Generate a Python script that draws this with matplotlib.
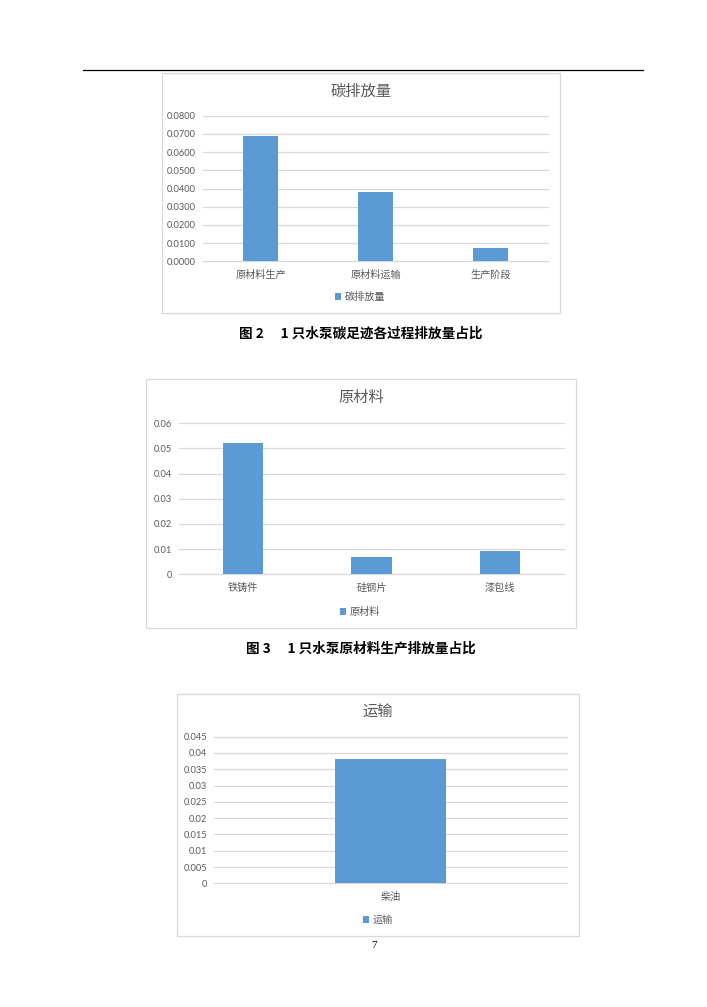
import matplotlib
matplotlib.use("Agg")
import matplotlib.pyplot as plt
from matplotlib.patches import Rectangle, Patch
from matplotlib.lines import Line2D
from matplotlib.ticker import FixedLocator, FixedFormatter

# ---------------- data ----------------
c1_title = "碳排放量"
c1_categories = ["原材料生产", "原材料运输", "生产阶段"]
c1_values = [0.0687, 0.0382, 0.0072]
c1_ticks = [0.0, 0.01, 0.02, 0.03, 0.04, 0.05, 0.06, 0.07, 0.08]
c1_ticklabels = ["0.0000", "0.0100", "0.0200", "0.0300", "0.0400",
                 "0.0500", "0.0600", "0.0700", "0.0800"]
c1_caption = "图 2　 1 只水泵碳足迹各过程排放量占比"

c2_title = "原材料"
c2_categories = ["铁铸件", "硅钢片", "漆包线"]
c2_values = [0.0523, 0.0070, 0.0091]
c2_ticks = [0.0, 0.01, 0.02, 0.03, 0.04, 0.05, 0.06]
c2_ticklabels = ["0", "0.01", "0.02", "0.03", "0.04", "0.05", "0.06"]
c2_caption = "图 3　 1 只水泵原材料生产排放量占比"

c3_title = "运输"
c3_categories = ["柴油"]
c3_values = [0.0383]
c3_ticks = [0.0, 0.005, 0.01, 0.015, 0.02, 0.025, 0.03, 0.035, 0.04, 0.045]
c3_ticklabels = ["0", "0.005", "0.01", "0.015", "0.02", "0.025",
                 "0.03", "0.035", "0.04", "0.045"]
page_number = "7"

# ---------------- styling ----------------
W, H = 707, 1007
BAR = "#5b9bd5"
GRID = "#d9d9d9"
TXT = "#595959"
CJK = ["Noto Sans CJK SC", "DejaVu Sans"]
NUM = ["Lato", "Noto Sans CJK SC", "DejaVu Sans"]

fig = plt.figure(figsize=(W / 100, H / 100), dpi=100)
fig.patch.set_facecolor("white")


def fx(x):
    return x / W


def fy(y):
    return 1 - y / H


def box(x0, y0, x1, y1):
    fig.patches.append(Rectangle((fx(x0), fy(y1)), fx(x1) - fx(x0), fy(y0) - fy(y1),
                                 transform=fig.transFigure, fill=False,
                                 edgecolor=GRID, linewidth=0.9))


def chart(frame, plot, title, title_xy, cats, vals, ticks, ticklabels,
          legend_xy, legend_label, caption=None, caption_xy=None):
    box(*frame)
    gx0, gy0, gx1, gy1 = plot  # left, top, right, bottom(zero)
    ax = fig.add_axes([fx(gx0), fy(gy1), fx(gx1) - fx(gx0), fy(gy0) - fy(gy1)])
    ax.set_facecolor("none")
    n = len(cats)
    ax.bar(range(n), vals, width=0.313, color=BAR, zorder=3)
    ax.set_xlim(-0.5, n - 0.5)
    ax.set_ylim(ticks[0], ticks[-1])
    ax.yaxis.set_major_locator(FixedLocator(ticks))
    ax.yaxis.set_major_formatter(FixedFormatter(ticklabels))
    ax.set_xticks(range(n))
    ax.set_xticklabels(cats, fontfamily=CJK, fontsize=7.3, color=TXT)
    for lab in ax.get_yticklabels():
        lab.set_fontfamily(NUM)
        lab.set_fontsize(6.7)
        lab.set_color(TXT)
    ax.tick_params(axis="both", length=0)
    ax.tick_params(axis="y", pad=5)
    ax.tick_params(axis="x", pad=6)
    ax.grid(axis="y", color=GRID, linewidth=0.9, zorder=0)
    for gl in ax.get_ygridlines():
        gl.set_clip_on(False)
    for s in ax.spines.values():
        s.set_visible(False)
    fig.text(fx(title_xy[0]), fy(title_xy[1]), title, fontfamily=CJK, fontsize=11,
             color=TXT, ha="center", va="center")
    handle = Patch(facecolor=BAR, edgecolor="none")
    fig.legend([handle], [legend_label], loc="center",
               bbox_to_anchor=(fx(legend_xy[0]), fy(legend_xy[1])),
               frameon=False, prop={"family": CJK, "size": 7.3},
               labelcolor=TXT, handlelength=0.6, handleheight=0.6,
               handletextpad=0.3, borderpad=0)
    if caption:
        fig.text(fx(caption_xy[0]), fy(caption_xy[1]), caption, fontfamily=CJK,
                 fontsize=9.8, fontweight="bold", color="black",
                 ha="center", va="center")
    return ax


# header line
fig.lines.append(Line2D([fx(83), fx(643)], [fy(70), fy(70)],
                        transform=fig.transFigure, color="black", linewidth=0.9))

chart((162, 73, 560, 313), (203, 115.7, 548, 261.3), c1_title, (361, 91),
      c1_categories, c1_values, c1_ticks, c1_ticklabels, (360, 297), c1_title,
      c1_caption, (361, 334))

chart((146, 379, 576, 628), (179, 423.3, 564, 574.3), c2_title, (361, 397),
      c2_categories, c2_values, c2_ticks, c2_ticklabels, (360, 612), c2_title,
      c2_caption, (361, 649))

chart((177, 694, 579, 936), (214, 736.7, 567, 883.3), c3_title, (378, 712),
      c3_categories, c3_values, c3_ticks, c3_ticklabels, (378, 920), c3_title)

fig.text(fx(374), fy(945), page_number, fontfamily=["Liberation Serif", "DejaVu Serif"],
         fontsize=8, color="black", ha="center", va="center")

fig.savefig("out.png", dpi=100, facecolor="white")
